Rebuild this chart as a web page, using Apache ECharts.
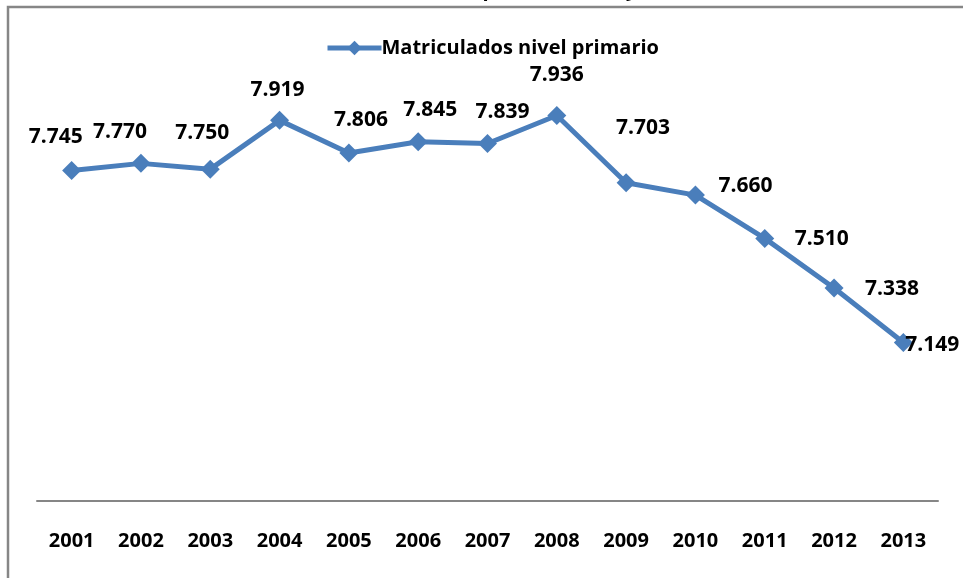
<!DOCTYPE html>
<html>
<head>
<meta charset="utf-8">
<script src="https://cdn.jsdelivr.net/npm/echarts@6/dist/echarts.min.js"></script>
<style>
  html, body { margin: 0; padding: 0; background: #fff; }
  #chart { width: 963px; height: 578px; }
</style>
</head>
<body>
<div id="chart"></div>
<script>
// datos
const years = ['2001', '2002', '2003', '2004', '2005', '2006', '2007', '2008', '2009', '2010', '2011', '2012', '2013']
const matriculados = [7.745, 7.770, 7.750, 7.919, 7.806, 7.845, 7.839, 7.936, 7.703, 7.660, 7.510, 7.338, 7.149]
const seriesName = 'Matriculados nivel primario'
const titleText = 'Matriculados en nivel primario 2001 y 2013'

// desplazamiento de cada etiqueta respecto al punto (estilo)
const labelOffsets = [
  [-16, -34], [-21, -31], [-8, -36], [-2, -30], [12, -33], [12, -32], [15, -31],
  [0, -40], [17, -55], [50, -9], [57, 1], [58, 1], [29, 2]
]

const blue = '#4A7EBB'
const font = 'Open Sans'

const chart = echarts.init(document.getElementById('chart'), null, { renderer: 'canvas' })

const option = {
  backgroundColor: '#fff',
  animation: false,
  title: {
    text: titleText,
    left: 262,
    top: -20,
    padding: 0,
    textStyle: { fontFamily: font, fontWeight: 'bold', fontSize: 20, color: '#000' }
  },
  graphic: [
    {
      type: 'rect',
      shape: { x: 8, y: 7, width: 1000, height: 620 },
      style: { fill: 'none', stroke: '#868686', lineWidth: 2.5 },
      z: 100
    }
  ],
  legend: {
    top: 33,
    left: 320,
    itemWidth: 54,
    itemHeight: 18,
    itemGap: 0,
    lineStyle: { width: 5, color: blue },
    textStyle: { fontFamily: font, fontWeight: 'bold', fontSize: 20, color: '#000', padding: [0, 0, 0, -5] },
    data: [seriesName]
  },
  grid: {
    left: 37,
    right: 25,
    top: 97,
    bottom: 77,
    containLabel: false
  },
  xAxis: {
    type: 'category',
    data: years,
    boundaryGap: true,
    axisLine: { show: true, lineStyle: { color: '#868686', width: 2 } },
    axisTick: { show: false },
    axisLabel: {
      margin: 30,
      fontFamily: font,
      fontWeight: 'bold',
      fontSize: 20,
      color: '#000'
    },
    splitLine: { show: false }
  },
  yAxis: {
    type: 'value',
    min: 6.6,
    max: 8.0,
    show: false,
    splitLine: { show: false }
  },
  series: [
    {
      name: seriesName,
      type: 'line',
      data: matriculados.map((v, i) => ({
        value: v,
        label: { offset: labelOffsets[i] }
      })),
      symbol: 'diamond',
      symbolSize: 19,
      lineStyle: { color: blue, width: 5 },
      itemStyle: { color: blue },
      label: {
        show: true,
        position: 'inside',
        align: 'center',
        verticalAlign: 'middle',
        fontFamily: font,
        fontWeight: 'bold',
        fontSize: 21,
        color: '#000',
        formatter: p => p.value.toFixed(3)
      }
    }
  ]
}

chart.setOption(option)
</script>
</body>
</html>
